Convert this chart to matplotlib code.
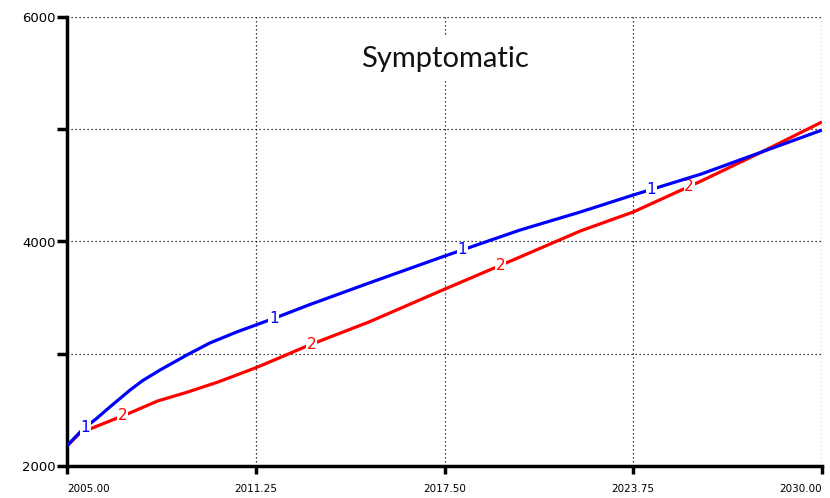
import numpy as np
import matplotlib
matplotlib.use("Agg")
import matplotlib.pyplot as plt

# ---- data ----
years1 = [2005, 2005.5, 2006, 2006.42, 2007.09, 2007.5, 2008.08, 2008.97, 2009.73,
          2010.62, 2011.25, 2012, 2013, 2015, 2017.5, 2020, 2022, 2023.75,
          2026, 2028, 2030]
series1 = [2180, 2321, 2428, 2526, 2677, 2760, 2855, 2989, 3096,
           3194, 3256, 3330, 3434, 3630, 3870, 4102, 4263, 4414,
           4601, 4797, 4993]
years2 = [2005, 2005.43, 2006, 2007, 2008, 2009, 2010, 2011.25, 2012, 2013,
          2015, 2017.5, 2020, 2022, 2023.75, 2026, 2028, 2030]
series2 = [2178, 2294, 2356, 2463, 2579, 2659, 2748, 2875, 2960, 3075,
           3283, 3575, 3862, 4094, 4263, 4539, 4797, 5065]
label1_x = [2005.6, 2011.85, 2018.1, 2024.35]
label2_x = [2006.85, 2013.1, 2019.35, 2025.6]
xticks = [2005, 2011.25, 2017.5, 2023.75, 2030]
yticks = [2000, 3000, 4000, 5000, 6000]
ytick_labels = ["2000", "", "4000", "", "6000"]
title = "Symptomatic"

fig = plt.figure(figsize=(8.3, 4.98), dpi=100)
ax = fig.add_axes([67/830, 32/498, 755/830, 449/498])
ax.set_xlim(2005, 2030)
ax.set_ylim(2000, 6000)

blue = "#0000ff"
red = "#ff0000"

# grid
for gx in xticks[1:]:
    ax.axvline(gx, color="black", lw=0.9, ls=(0, (1, 2.2)), zorder=1)
for gy in yticks[1:]:
    ax.axhline(gy, color="black", lw=0.9, ls=(0, (1, 2.2)), zorder=1)

ax.plot(years2, series2, color=red, lw=2.3, zorder=2, solid_capstyle="butt")
for lx in label2_x:
    ax.text(lx, np.interp(lx, years2, series2), "2", color=red, fontsize=11,
            ha="center", va="center", zorder=3, family="DejaVu Sans",
            bbox=dict(facecolor="white", edgecolor="none", pad=0.4))
ax.plot(years1, series1, color=blue, lw=2.3, zorder=4, solid_capstyle="butt")
for lx in label1_x:
    ax.text(lx, np.interp(lx, years1, series1), "1", color=blue, fontsize=11,
            ha="center", va="center", zorder=5, family="DejaVu Sans",
            bbox=dict(facecolor="white", edgecolor="none", pad=0.4))

ax.text(0.5007, 0.889, title, transform=ax.transAxes, ha="center", va="baseline",
        fontsize=21, family="Lato", color="#111111", zorder=6,
        bbox=dict(facecolor="white", edgecolor="none", pad=7))

for s in ["top", "right"]:
    ax.spines[s].set_visible(False)
for s in ["left", "bottom"]:
    ax.spines[s].set_linewidth(2.5)
    ax.spines[s].set_capstyle("projecting")

ax.set_xticks(xticks)
ax.set_xticklabels([f"{v:.2f}" for v in xticks], fontsize=7.5)
xl = ax.get_xticklabels()
xl[0].set_horizontalalignment("left")
xl[0].set_x(xticks[0] - 0.17)
xl[-1].set_horizontalalignment("right")
xl[-1].set_x(xticks[-1] + 0.1)
ax.set_yticks(yticks)
ax.set_yticklabels(ytick_labels, fontsize=9.5)
ax.tick_params(axis="x", direction="out", length=6, width=2.5, pad=7)
ax.tick_params(axis="y", direction="out", length=7, width=2.5, pad=1)

fig.savefig("out.png", dpi=100, facecolor="white")
